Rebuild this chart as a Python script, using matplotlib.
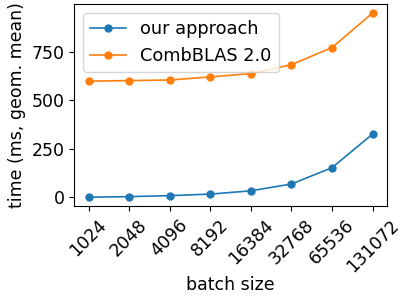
import matplotlib
matplotlib.use('Agg')
import matplotlib.pyplot as plt

batchSizes = ['1024', '2048', '4096', '8192', '16384', '32768', '65536', '131072']
ourApproach = [1, 4, 9, 17, 34, 69, 153, 326]
combBlas = [599, 602, 605, 621, 638, 684, 772, 950]

plt.rcParams['font.size'] = 12.5

fig, ax = plt.subplots(figsize=(4.02, 2.97), dpi=100)
x = range(len(batchSizes))
ax.plot(x, ourApproach, marker='o', markersize=5, linewidth=1.2, label='our approach')
ax.plot(x, combBlas, marker='o', markersize=5, linewidth=1.2, label='CombBLAS 2.0')

ax.set_xticks(list(x))
ax.set_xticklabels(batchSizes, rotation=45)
ax.set_yticks([0, 250, 500, 750])
ax.set_xlabel('batch size', labelpad=0.5)
ax.set_ylabel('time (ms, geom. mean)')
ax.legend(loc='upper left', fontsize=12.8)

plt.subplots_adjust(left=0.185, right=0.962, top=0.987, bottom=0.305)
plt.savefig('out.png')
